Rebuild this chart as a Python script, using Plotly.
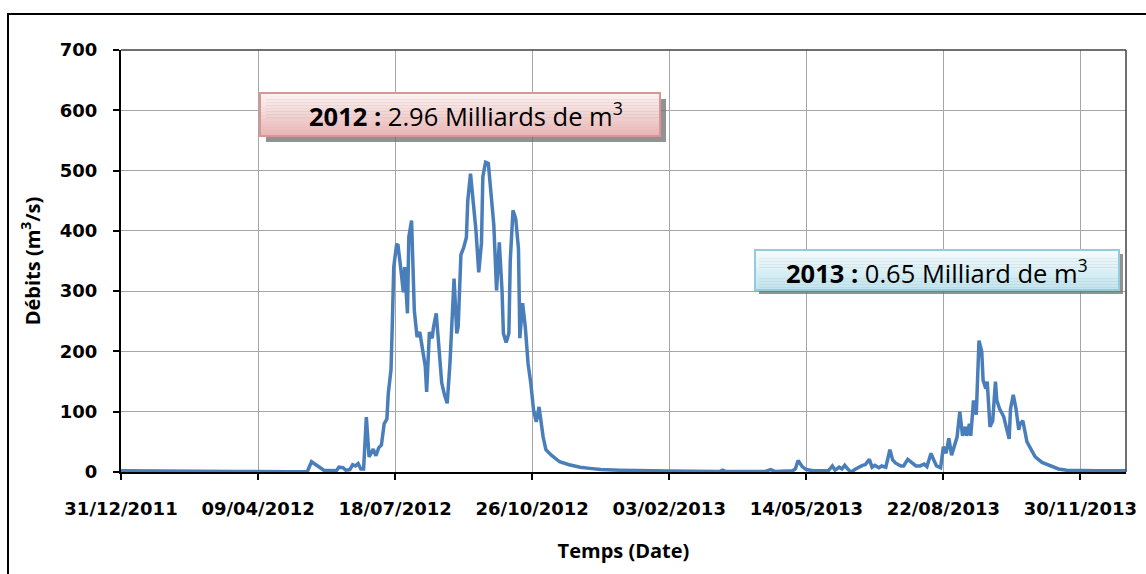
import pandas as pd
import plotly.graph_objects as go

# ---------------- data ----------------
start_date = "2011-12-31"
days_since_start = [
    0, 5, 8, 50, 52, 54, 80, 82, 84, 123, 136, 139, 143, 148, 157, 159, 162, 164, 167,
    169, 171, 173, 175, 177, 179, 181, 184, 186, 188, 190, 192, 194, 195, 197, 198, 199,
    201, 202, 204, 206, 207, 209, 210, 212, 214, 216, 218, 220, 222, 223, 225, 227, 228,
    230, 232, 234, 236, 238, 240, 242, 243, 245, 246, 248, 250, 252, 253, 255, 257, 259,
    261, 263, 264, 266, 268, 270, 272, 274, 276, 278, 279, 281, 283, 284, 286, 288, 290,
    291, 293, 295, 297, 299, 301, 303, 305, 308, 310, 314, 320, 327, 335, 342, 350, 364,
    380, 400, 437, 439, 441, 470, 474, 477, 490, 492, 494, 497, 500, 505, 516, 519, 521,
    524, 526, 528, 531, 533, 536, 538, 541, 543, 546, 548, 550, 553, 555, 558, 561, 563,
    565, 569, 571, 574, 576, 580, 583, 586, 588, 591, 593, 595, 598, 600, 602, 604, 606,
    608, 610, 612, 614, 616, 617, 619, 620, 622, 624, 626, 628, 629, 631, 632, 634, 636,
    638, 639, 641, 644, 646, 648, 649, 651, 653, 655, 656, 658, 661, 664, 667, 672, 678,
    684, 690, 700, 712, 733,
]
debits = [
    2, 2, 1, 1, 2, 1, 1, 2, 1, 0.5, 1, 17, 10, 3, 2, 8, 7, 3, 4,
    12, 10, 14, 5, 5, 91, 25, 38, 27, 40, 45, 80, 88, 130, 170, 250, 340,
    376, 378, 340, 298, 340, 263, 390, 417, 268, 224, 232, 205, 175, 133, 232, 222, 240,
    263, 200, 148, 128, 114, 180, 290, 321, 230, 241, 360, 372, 389, 450, 495, 452, 400,
    331, 380, 490, 514, 512, 465, 410, 301, 381, 301, 230, 215, 230, 350, 434, 420, 370,
    222, 280, 240, 180, 147, 103, 83, 108, 58, 37, 28, 17, 12, 8, 6, 4, 3,
    2, 1.5, 1, 3, 1, 1, 4, 1, 2, 5, 19, 9, 4, 2, 2, 10, 3,
    8, 5, 11, 3, 0.5, 5, 8, 11, 12, 21, 8, 11, 7, 10, 8, 37, 20,
    15, 10, 10, 21, 17, 10, 10, 13, 9, 31, 20, 10, 7, 42, 31, 56, 28,
    45, 58, 100, 60, 75, 60, 80, 60, 119, 95, 218, 200, 152, 138, 150, 75, 85,
    150, 119, 105, 92, 70, 55, 105, 128, 105, 70, 80, 85, 50, 36, 25, 16, 10,
    5, 3, 2, 2, 2,
]
label_2012 = "<b>2012 :</b> 2.96 Milliards de m<sup>3</sup>"
label_2013 = "<b>2013 :</b> 0.65 Milliard de m<sup>3</sup>"
x_title = "Temps (Date)"
y_title = "Débits (m<sup>3</sup>/s)"

dates = pd.Timestamp(start_date) + pd.to_timedelta(days_since_start, unit="D")

# ---------------- figure ----------------
W, H = 1146, 574
L, R, T, B = 121, 20, 50, 102
PW, PH = W - L - R, H - T - B


def px_x(px):
    return (px - L) / PW


def px_y(py):
    return (H - B - py) / PH


fig = go.Figure()
fig.add_trace(go.Scatter(
    x=dates, y=debits, mode="lines",
    line=dict(color="#4A7EBB", width=3.5),
    showlegend=False, hoverinfo="x+y",
))

tick_font = dict(family="DejaVu Sans, Verdana, sans-serif", size=18, color="black", weight="bold")
title_font = dict(family="Open Sans, Calibri, sans-serif", size=20, color="black", weight="bold")

fig.update_layout(
    width=W, height=H,
    margin=dict(l=L, r=R, t=T, b=B, autoexpand=False),
    paper_bgcolor="white", plot_bgcolor="white",
    xaxis=dict(
        type="date",
        range=["2011-12-31", "2014-01-02 06:00"],
        tick0="2011-12-31", dtick=100 * 86400000,
        tickformat="%d/%m/%Y",
        showgrid=True, gridcolor="#A6A6A6", gridwidth=1,
        showline=True, linecolor="black", linewidth=2,
        ticks="outside", ticklen=6, tickwidth=2, tickcolor="black",
        tickfont=tick_font, ticklabelstandoff=13,
        zeroline=False,
        title=dict(text=x_title, font=title_font, standoff=26),
    ),
    yaxis=dict(
        range=[0, 700], dtick=100, tick0=0,
        showgrid=True, gridcolor="#A6A6A6", gridwidth=1,
        showline=True, linecolor="black", linewidth=2,
        ticks="outside", ticklen=6, tickwidth=2, tickcolor="black",
        tickfont=tick_font, ticklabelstandoff=12,
        zeroline=False,
        title=dict(text=y_title, font=title_font, standoff=14),
    ),
)

shapes = []
# outer chart frame
shapes.append(dict(type="rect", xref="paper", yref="paper",
                   x0=px_x(8), x1=px_x(1160), y0=px_y(590), y1=px_y(14),
                   line=dict(color="black", width=2), fillcolor="rgba(0,0,0,0)", layer="above"))
# plot-area border (top and right)
shapes.append(dict(type="line", xref="paper", yref="paper", x0=0, x1=1, y0=1, y1=1,
                   line=dict(color="#404040", width=1.5), layer="above"))
shapes.append(dict(type="line", xref="paper", yref="paper", x0=1, x1=1, y0=0, y1=1,
                   line=dict(color="#404040", width=1.5), layer="above"))


def hex_mix(c1, c2, t):
    a = [int(c1[i:i + 2], 16) for i in (1, 3, 5)]
    b = [int(c2[i:i + 2], 16) for i in (1, 3, 5)]
    return "rgb(%d,%d,%d)" % tuple(round(a[k] + (b[k] - a[k]) * t) for k in range(3))


def callout(x0, x1, y0, y1, top_col, bot_col, border, shadow_off=5, n=14):
    # shadow
    shapes.append(dict(type="rect", xref="paper", yref="paper",
                       x0=px_x(x0 + shadow_off), x1=px_x(x1 + shadow_off),
                       y0=px_y(y1 + shadow_off), y1=px_y(y0 + shadow_off),
                       line=dict(width=0), fillcolor="rgba(110,110,110,0.75)", layer="above"))
    # gradient strips
    h = (y1 - y0) / n
    for i in range(n):
        shapes.append(dict(type="rect", xref="paper", yref="paper",
                           x0=px_x(x0), x1=px_x(x1),
                           y0=px_y(y0 + (i + 1) * h + 0.3), y1=px_y(y0 + i * h),
                           line=dict(width=0),
                           fillcolor=hex_mix(top_col, bot_col, i / (n - 1)), layer="above"))
    # border
    shapes.append(dict(type="rect", xref="paper", yref="paper",
                       x0=px_x(x0), x1=px_x(x1), y0=px_y(y1), y1=px_y(y0),
                       line=dict(color=border, width=2), fillcolor="rgba(0,0,0,0)", layer="above"))


callout(260, 660, 93, 136, "#FDF1F1", "#E8B7B6", "#D99695", shadow_off=6)
callout(755, 1119, 250, 290, "#F4FBFD", "#C2E5EE", "#93CDDD", shadow_off=4)
fig.update_layout(shapes=shapes)

ann_font = dict(family="Open Sans, Calibri, sans-serif", size=25.5, color="black")
fig.add_annotation(xref="paper", yref="paper", x=px_x(466), y=px_y(115),
                   text=label_2012, showarrow=False, font=ann_font,
                   xanchor="center", yanchor="middle")
fig.add_annotation(xref="paper", yref="paper", x=px_x(937), y=px_y(271),
                   text=label_2013, showarrow=False, font=ann_font,
                   xanchor="center", yanchor="middle")

fig.write_html("out.html", config={"displayModeBar": False},
               post_script="document.body.style.margin='0';")
